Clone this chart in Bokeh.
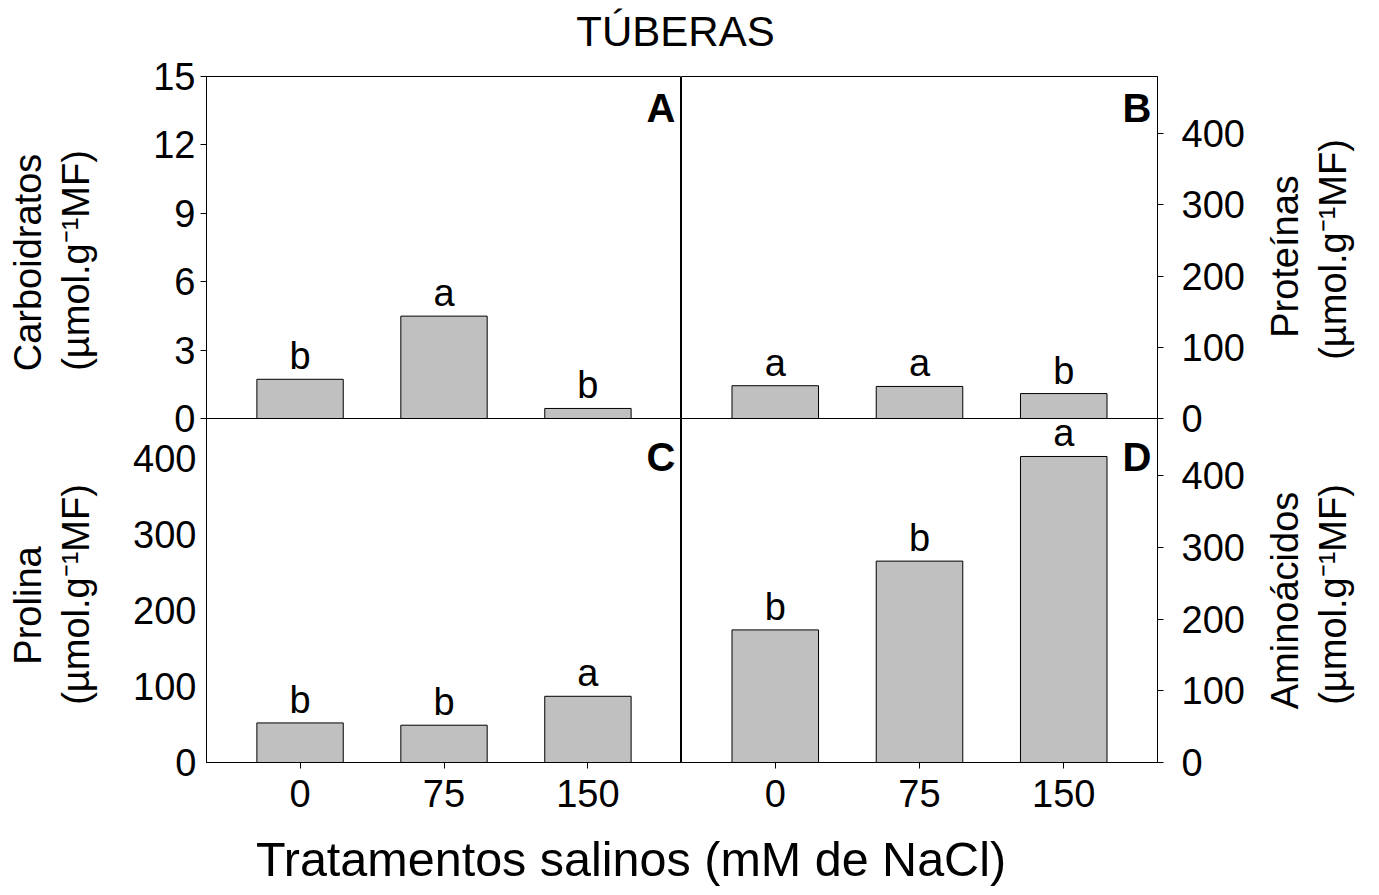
import math
from bokeh.plotting import figure
from bokeh.models import Range1d, FixedTicker, Label, LabelSet, ColumnDataSource, Div
from bokeh.layouts import column, row
from bokeh.core.properties import value
from bokeh.embed import file_html
from bokeh.resources import INLINE

# ---------------- data ----------------
treatments = ["0", "75", "150"]
carboidratos = [1.72, 4.49, 0.44]
proteinas = [46, 45, 35]
prolina = [52, 49, 87]
aminoacidos = [185, 281, 427]
letters_carb = ["b", "a", "b"]
letters_prot = ["a", "a", "b"]
letters_prol = ["b", "b", "a"]
letters_amin = ["b", "b", "a"]
ticks_carb = [0, 3, 6, 9, 12, 15]
ticks_prot = [0, 100, 200, 300, 400]
ticks_prol = [0, 100, 200, 300, 400]
ticks_amin = [0, 100, 200, 300, 400]
title_text = "TÚBERAS"
xlabel_text = "Tratamentos salinos (mM de NaCl)"
unit_text = "(µmol.g⁻¹MF)"

FONT = "Liberation Sans"
FS = "38px"


def transparent(p):
    p.background_fill_color = "white"
    p.background_fill_alpha = 0
    p.border_fill_color = "white"
    p.border_fill_alpha = 0


def panel(vals, letters, ymax, yticks, side, with_x, tag, tag_dy,
          tick_out, standoff, fw, fh, borders):
    bl, br, bt, bb = borders
    p = figure(frame_width=fw, frame_height=fh,
               x_range=Range1d(-0.65, 2.65), y_range=Range1d(0, ymax),
               output_backend="svg", toolbar_location=None, title_location=None,
               x_axis_location="below" if with_x else None,
               y_axis_location=side,
               min_border_left=bl, min_border_right=br,
               min_border_top=bt, min_border_bottom=bb)
    p.grid.visible = False
    transparent(p)
    p.outline_line_color = "black"
    p.outline_line_width = 1
    p.outline_line_alpha = 1

    xs = list(range(len(vals)))
    src = ColumnDataSource(dict(x=xs, top=vals, lab=letters))
    p.vbar(x="x", top="top", width=0.6, source=src,
           fill_color="#c0c0c0", line_color="black", line_width=1)
    p.add_layout(LabelSet(x="x", y="top", text="lab", source=src,
                          y_offset=10, text_align="center",
                          text_baseline="alphabetic",
                          text_font=value(FONT), text_font_size=value(FS),
                          text_color="black"))

    ya = p.yaxis[0]
    ya.ticker = FixedTicker(ticks=yticks)
    ya.major_tick_out = tick_out
    ya.major_tick_in = 0
    ya.minor_tick_out = 0
    ya.minor_tick_in = 0
    ya.major_label_standoff = standoff
    ya.major_label_text_font = FONT
    ya.major_label_text_font_size = FS
    ya.major_label_text_color = "black"
    ya.axis_line_color = "black"
    ya.major_tick_line_color = "black"

    if with_x:
        xa = p.xaxis[0]
        xa.ticker = FixedTicker(ticks=xs)
        xa.major_label_overrides = {i: t for i, t in enumerate(treatments)}
        xa.major_tick_out = 6
        xa.major_tick_in = 0
        xa.minor_tick_out = 0
        xa.minor_tick_in = 0
        xa.major_label_standoff = 11
        xa.major_label_text_font = FONT
        xa.major_label_text_font_size = FS
        xa.major_label_text_color = "black"
        xa.axis_line_color = "black"
        xa.major_tick_line_color = "black"

    p.add_layout(Label(x=fw - 6, y=fh - tag_dy, x_units="screen", y_units="screen",
                       text=tag, text_align="right", text_baseline="middle",
                       text_font=FONT, text_font_size="40px", text_font_style="bold",
                       text_color="black"))
    return p


def title_strip(w, h, items):
    t = figure(frame_width=w, frame_height=h, x_range=Range1d(0, 1), y_range=Range1d(0, 1),
               output_backend="svg", toolbar_location=None, title_location=None,
               x_axis_location=None, y_axis_location=None,
               min_border=0, min_border_left=0, min_border_right=0,
               min_border_top=0, min_border_bottom=0)
    t.grid.visible = False
    t.outline_line_color = None
    transparent(t)
    for txt, x, y in items:
        t.add_layout(Label(x=x, y=y, x_units="screen", y_units="screen",
                           text=txt, angle=math.pi / 2, text_align="center",
                           text_baseline="middle", text_font=FONT,
                           text_font_size=FS, text_color="black"))
    return t


FW_L, FW_R = 475, 476
OVERLAP = 24
TOP_H = 26 + 342 + OVERLAP
BOT_H = 344 + 62
STRIP_H = TOP_H + BOT_H - OVERLAP

pA = panel(carboidratos, letters_carb, 15, ticks_carb, "left", False, "A", 31,
           6, 5, FW_L, 342, (86, 0, 26, OVERLAP))
pB = panel(proteinas, letters_prot, 480, ticks_prot, "right", False, "B", 31,
           6, 18, FW_R, 342, (0, 90, 26, OVERLAP))
pC = panel(prolina, letters_prol, 452, ticks_prol, "left", True, "C", 38,
           0, 10, FW_L, 344, (86, 0, 0, 62))
pD = panel(aminoacidos, letters_amin, 480, ticks_amin, "right", True, "D", 38,
           6, 18, FW_R, 344, (0, 90, 0, 62))

tL = title_strip(120, STRIP_H, [("Carboidratos", 27, 562), (unit_text, 75, 564),
                                ("Prolina", 27, 219), (unit_text, 75, 230)])
tR = title_strip(126, STRIP_H, [("Proteínas", 37, 568), (unit_text, 85, 575),
                                ("Aminoácidos", 37, 224), (unit_text, 85, 230)])

title = Div(text=title_text, width=1351, height=50, margin=(0, 0, 0, 0),
            styles={"font-family": FONT, "font-size": "42px", "text-align": "center",
                    "padding-top": "14px", "color": "black", "width": "1351px",
                    "line-height": "36px", "box-sizing": "border-box",
                    "overflow": "visible"})
xtitle = Div(text=xlabel_text, width=1262, height=64, margin=(0, 0, 0, 0),
             styles={"font-family": FONT, "font-size": "48.5px", "text-align": "center",
                     "padding-top": "11px", "color": "black", "width": "1262px",
                     "line-height": "1.0", "box-sizing": "border-box"})

grid = column(row(pA, pB), row(pC, pD, margin=(-OVERLAP, 0, 0, 0)))
layout = column(title, row(tL, grid, tR), xtitle)

open("out.html", "w").write(file_html(layout, INLINE))
